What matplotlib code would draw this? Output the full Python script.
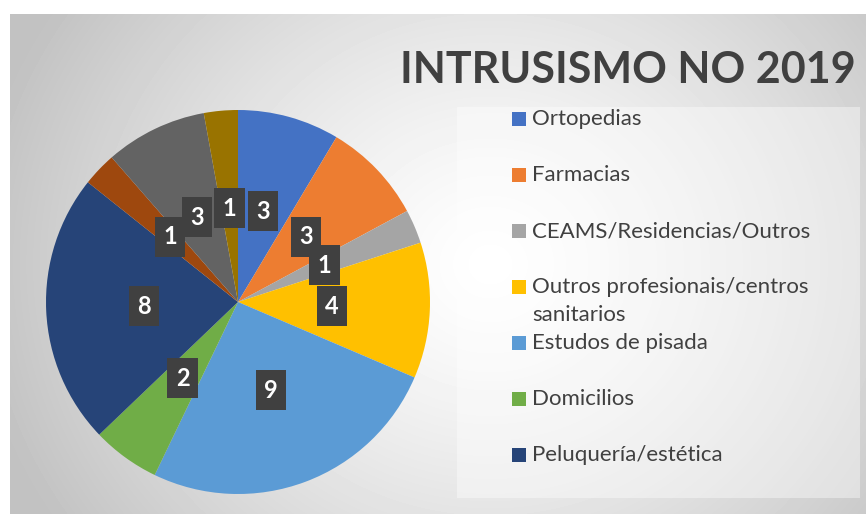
import numpy as np
import matplotlib.pyplot as plt
from matplotlib.patches import Rectangle

plt.rcParams['font.family'] = ['Lato', 'DejaVu Sans']

# data
categories = ['Ortopedias', 'Farmacias', 'CEAMS/Residencias/Outros',
              'Outros profesionais/centros\nsanitarios', 'Estudos de pisada',
              'Domicilios', 'Peluquería/estética', 'Outros 8', 'Outros 9', 'Outros 10']
values = [3, 3, 1, 4, 9, 2, 8, 1, 3, 1]
colors = ['#4472C4', '#ED7D31', '#A5A5A5', '#FFC000', '#5B9BD5',
          '#70AD47', '#264478', '#9E480E', '#636363', '#997300']
n_legend = 7  # only the first 7 entries fit in the legend box

W, H = 866, 514
fig = plt.figure(figsize=(W / 100, H / 100), dpi=100)

# background with soft radial gradient
bg = fig.add_axes([10 / W, 0, (W - 10) / W, (H - 14) / H])
yy, xx = np.mgrid[0:500, 0:856]
r = np.hypot(xx - 480, (yy - 250) * 1.1)
shade = 1 - 0.24 * np.clip(r / 520, 0, 1) ** 1.3
bg.imshow(shade, cmap='gray', vmin=0, vmax=1, extent=(0, 856, 500, 0), aspect='auto')
bg.add_patch(Rectangle((447, 93), 403, 391, fc='white', ec='none', alpha=0.4))
bg.set_xlim(0, 856)
bg.set_ylim(500, 0)
bg.axis('off')

# pie
cx, cy, rad = 238, 302, 192
ax = fig.add_axes([(cx - rad) / W, (H - cy - rad) / H, 2 * rad / W, 2 * rad / H])
total = sum(values)
wedges, texts, autotexts = ax.pie(
    values, colors=colors, startangle=90, counterclock=False,
    autopct=lambda p: f'{p * total / 100:.0f}', pctdistance=0.49,
    wedgeprops=dict(linewidth=0),
    textprops=dict(color='white', fontsize=17, fontweight='bold'))
for t in autotexts:
    t.set_bbox(dict(boxstyle='square,pad=0.36', fc='#404040', ec='none'))
ax.set_xlim(-1, 1)
ax.set_ylim(-1, 1)
ax.set_aspect('equal')

# title
fig.text(628 / W, 1 - 70 / H, 'INTRUSISMO NO 2019', ha='center', va='center',
         fontsize=31, fontweight='bold', color='#404040')

# legend
for i in range(n_legend):
    yc = 119 + 56 * i
    fig.patches.append(Rectangle((512 / W, 1 - (yc + 7) / H), 14 / W, 14 / H,
                                 transform=fig.transFigure, fc=colors[i], ec='none'))
    fig.text(532 / W, 1 - (yc - 10) / H, categories[i], ha='left', va='top',
             fontsize=16, color='#404040', linespacing=1.5)

fig.savefig('out.png', dpi=100)
